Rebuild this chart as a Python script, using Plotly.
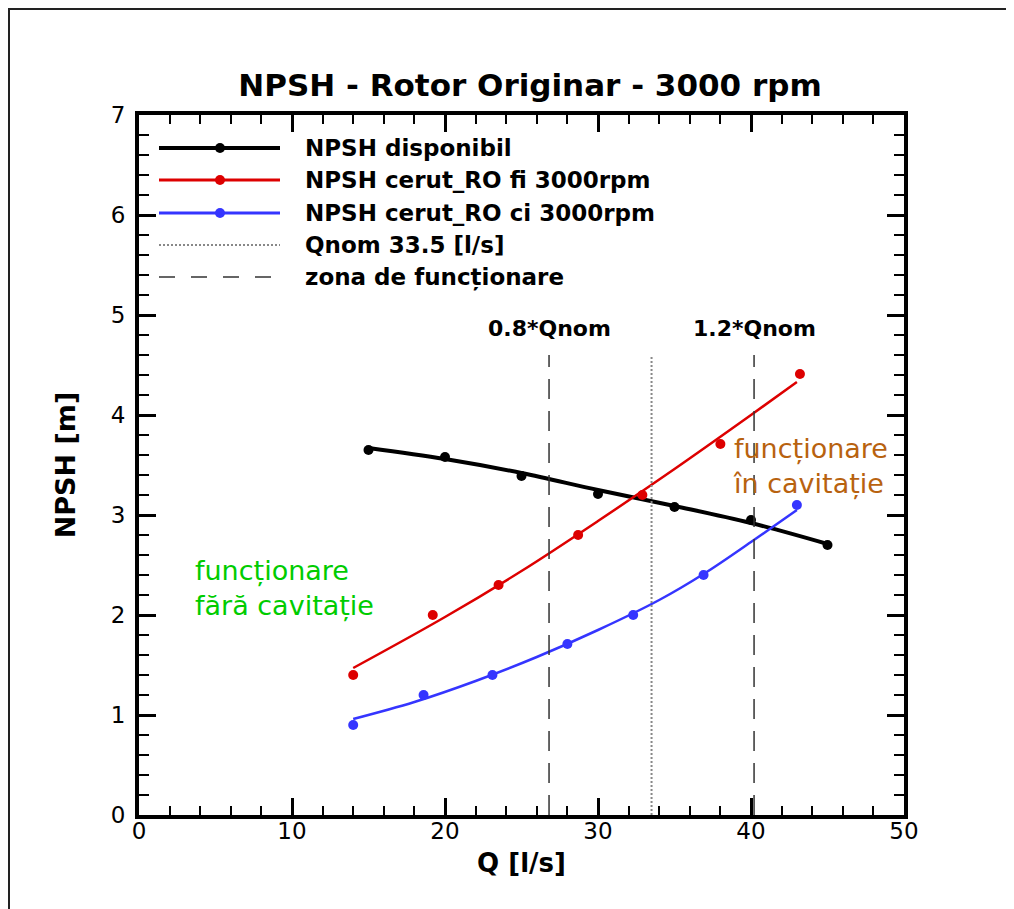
import plotly.graph_objects as go

# ---------------- data ----------------
q_disp = [15, 20, 25, 30, 35, 40, 45]
npsh_disp = [3.65, 3.58, 3.39, 3.21, 3.08, 2.95, 2.70]
q_disp_fit = [15, 20, 25, 30, 35, 40, 45]
npsh_disp_fit = [3.67, 3.56, 3.42, 3.25, 3.09, 2.92, 2.71]

q_fi = [14.0, 19.2, 23.5, 28.7, 32.9, 38.0, 43.2]
npsh_fi = [1.40, 2.00, 2.30, 2.80, 3.20, 3.71, 4.41]
q_fi_fit = [14, 20, 25, 30, 35, 40, 43]
npsh_fi_fit = [1.47, 1.98, 2.44, 2.94, 3.46, 4.00, 4.33]

q_ci = [14.0, 18.6, 23.1, 28.0, 32.3, 36.9, 43.0]
npsh_ci = [0.90, 1.20, 1.40, 1.71, 2.00, 2.40, 3.10]
q_ci_fit = [14, 18, 22, 26, 30, 34, 37, 40, 43]
npsh_ci_fit = [0.96, 1.13, 1.34, 1.58, 1.85, 2.15, 2.42, 2.73, 3.05]

q_nom = 33.5
zone_factors = [0.8, 1.2]
vline_top = 4.6

legend_labels = ["NPSH disponibil", "NPSH cerut_RO fi 3000rpm",
                 "NPSH cerut_RO ci 3000rpm", "Qnom 33.5 [l/s]",
                 "zona de funcționare"]

x_ticks = [0, 10, 20, 30, 40, 50]
y_ticks = [0, 1, 2, 3, 4, 5, 6, 7]

# ---------------- styles ----------------
FONT = "DejaVu Sans"
BLACK = "#000000"
RED = "#dd0000"
BLUE = "#3535ff"
GREEN = "#00cc00"
BROWN = "#b8620f"
DASH_COL = "#333333"
DOT_COL = "#888888"

OFF = 8                      # page body margin of the html page
W, H = 1014 - OFF, 909 - OFF
# plot area in page pixels
L, R, T, B = 139, 904, 115, 815


def px_x(p):
    return (p - L) / (R - L)


def px_y(p):
    return (B - p) / (B - T)


fig = go.Figure()

# fitted curves
fig.add_trace(go.Scatter(x=q_disp_fit, y=npsh_disp_fit, mode="lines", line=dict(color=BLACK, width=4, shape="spline"), showlegend=False))
fig.add_trace(go.Scatter(x=q_fi_fit, y=npsh_fi_fit, mode="lines", line=dict(color=RED, width=2.5, shape="spline"), showlegend=False))
fig.add_trace(go.Scatter(x=q_ci_fit, y=npsh_ci_fit, mode="lines", line=dict(color=BLUE, width=2.5, shape="spline"), showlegend=False))

# measured points
fig.add_trace(go.Scatter(x=q_disp, y=npsh_disp, mode="markers", marker=dict(color=BLACK, size=10), showlegend=False))
fig.add_trace(go.Scatter(x=q_fi, y=npsh_fi, mode="markers", marker=dict(color=RED, size=10), showlegend=False))
fig.add_trace(go.Scatter(x=q_ci, y=npsh_ci, mode="markers", marker=dict(color=BLUE, size=10), showlegend=False))

# vertical reference lines
fig.add_trace(go.Scatter(x=[q_nom, q_nom], y=[0, vline_top], mode="lines",
                         line=dict(color=DOT_COL, width=2, dash="2px,2px"), showlegend=False))
for f in zone_factors:
    fig.add_trace(go.Scatter(x=[f * q_nom, f * q_nom], y=[0, vline_top], mode="lines",
                             line=dict(color=DASH_COL, width=1.5, dash="20px,12px"), showlegend=False))

annotations = []
for f in zone_factors:
    annotations.append(dict(x=f * q_nom, y=4.87, xref="x", yref="y", text=f"{f}*Qnom", showarrow=False,
                            font=dict(family=FONT, size=22, color=BLACK, weight="bold"), xanchor="center", yanchor="middle"))
annotations.append(dict(x=3.5, y=2.27, xref="x", yref="y", text="funcționare<br>fără cavitație", showarrow=False,
                        align="left", xanchor="left", yanchor="middle", font=dict(family=FONT, size=27, color=GREEN)))
annotations.append(dict(x=38.7, y=3.49, xref="x", yref="y", text="funcționare<br>în cavitație", showarrow=False,
                        align="left", xanchor="left", yanchor="middle", font=dict(family=FONT, size=27, color=BROWN)))

# manual legend (long line samples as in the reference)
shapes = []
leg_rows = [148, 180, 213, 245, 277]
leg_styles = [(BLACK, 4, "solid", True), (RED, 3, "solid", True), (BLUE, 3, "solid", True),
              (DOT_COL, 2, "2px,2px", False), (DASH_COL, 1.5, "16px,16px", False)]
for row, lab, (col, w, dash, mk) in zip(leg_rows, legend_labels, leg_styles):
    shapes.append(dict(type="line", xref="paper", yref="paper", x0=px_x(159), x1=px_x(280),
                       y0=px_y(row), y1=px_y(row), line=dict(color=col, width=w, dash=dash)))
    if mk:
        r = 5
        shapes.append(dict(type="circle", xref="paper", yref="paper", x0=px_x(220 - r), x1=px_x(220 + r),
                           y0=px_y(row + r), y1=px_y(row - r), fillcolor=col, line=dict(color=col, width=0)))
    annotations.append(dict(x=px_x(303), y=px_y(row), xref="paper", yref="paper", text=lab, showarrow=False,
                            xanchor="left", yanchor="middle", font=dict(family=FONT, size=23, color=BLACK, weight="bold")))

# outer frame of the picture
shapes.append(dict(type="rect", xref="paper", yref="paper", x0=px_x(OFF + 1), x1=px_x(1100), y0=px_y(1000), y1=px_y(OFF + 1),
                   line=dict(color="#222222", width=2), layer="below"))

axis_common = dict(showgrid=False, zeroline=False, showline=True, linecolor=BLACK, linewidth=4,
                   mirror="ticks", ticks="inside", ticklen=17, tickwidth=3, tickcolor=BLACK,
                   tickfont=dict(family=FONT, size=23, color=BLACK))

fig.update_layout(
    width=W, height=H,
    margin=dict(l=L - OFF, r=(1014 - R), t=T - OFF, b=(909 - B)),
    paper_bgcolor="white", plot_bgcolor="white",
    title=dict(text="NPSH - Rotor Originar - 3000 rpm", x=(530 - OFF) / W, xanchor="center",
               y=1 - (85 - OFF) / H, yanchor="middle", font=dict(family=FONT, size=31, color=BLACK, weight="bold")),
    xaxis=dict(range=[0, 50], tickvals=x_ticks, ticktext=[str(v) for v in x_ticks],
               minor=dict(dtick=2, ticks="inside", ticklen=9, tickwidth=1.5, tickcolor=BLACK),
               ticklabelstandoff=-8,
               title=dict(text="Q [l/s]", standoff=12, font=dict(family=FONT, size=26, color=BLACK, weight="bold")),
               **axis_common),
    yaxis=dict(range=[0, 7], tickvals=y_ticks, ticktext=[str(v) for v in y_ticks],
               minor=dict(dtick=0.2, ticks="inside", ticklen=10, tickwidth=1.5, tickcolor=BLACK),
               ticklabelstandoff=5,
               title=dict(text="NPSH [m]", standoff=28, font=dict(family=FONT, size=27, color=BLACK, weight="bold")),
               **axis_common),
    annotations=annotations,
    shapes=shapes,
    showlegend=False,
)

fig.write_html("out.html")
